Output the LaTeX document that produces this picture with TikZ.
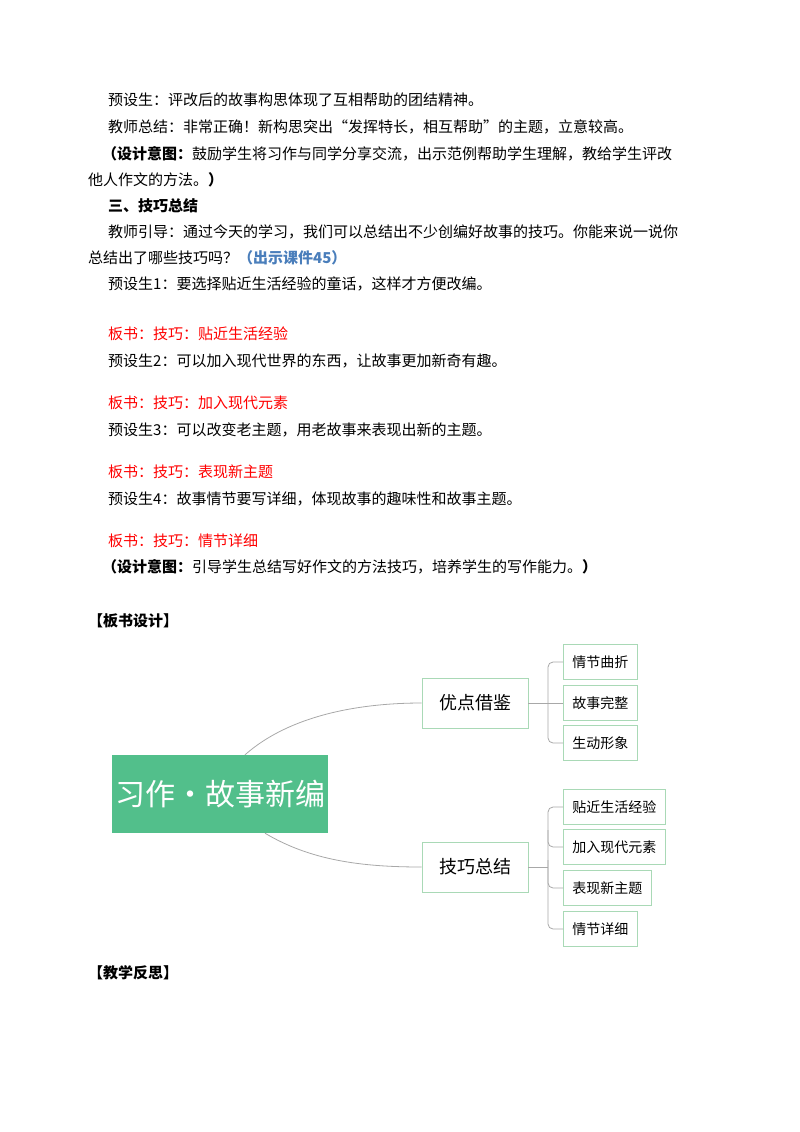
\documentclass[tikz,border=0pt]{standalone}
\usepackage{fontspec}
\setmainfont{Noto Sans CJK SC}
\usetikzlibrary{positioning}
\definecolor{mapgreen}{HTML}{52BF8B}
\definecolor{boxline}{HTML}{A9D9B6}
\definecolor{linkgray}{HTML}{A8A8A8}
\definecolor{noteblue}{HTML}{4A7EBB}
\tikzset{
  para/.style={anchor=west, inner sep=0pt, font=\fontsize{15}{15}\selectfont},
  board/.style={para, red},
  midbox/.style={draw=boxline, line width=0.8pt, minimum width=106pt, minimum height=50pt, font=\fontsize{18}{18}\selectfont},
  leafbox/.style={draw=boxline, line width=0.8pt, anchor=west, minimum height=35pt, inner xsep=9pt, font=\fontsize{14}{14}\selectfont},
  link/.style={draw=linkgray, line width=0.8pt}
}
\begin{document}
\begin{tikzpicture}[x=1pt, y=-1pt]
	\useasboundingbox (0,0) rectangle (800,1132);
	% lesson text
	\node[para] (p1) at (108,100) {预设生：评改后的故事构思体现了互相帮助的团结精神。};
	\node[para] (p2) at (108,127) {教师总结：非常正确！新构思突出“发挥特长，相互帮助”的主题，立意较高。};
	\node[para] (p3) at (102,154) {\textbf{（设计意图：}鼓励学生将习作与同学分享交流，出示范例帮助学生理解，教给学生评改};
	\node[para] (p4) at (88,180) {他人作文的方法。\textbf{）}};
	\node[para] (p5) at (108,206) {\textbf{三、技巧总结}};
	\node[para] (p6) at (108,232) {教师引导：通过今天的学习，我们可以总结出不少创编好故事的技巧。你能来说一说你};
	\node[para] (p7) at (88,258) {总结出了哪些技巧吗？\textcolor{noteblue}{\textbf{（出示课件45）}}};
	\node[para] (p8) at (108,284) {预设生1：要选择贴近生活经验的童话，这样才方便改编。};
	\node[board] (b1) at (108,334) {板书：技巧：贴近生活经验};
	\node[para] (p9) at (108,361) {预设生2：可以加入现代世界的东西，让故事更加新奇有趣。};
	\node[board] (b2) at (108,403) {板书：技巧：加入现代元素};
	\node[para] (p10) at (108,430) {预设生3：可以改变老主题，用老故事来表现出新的主题。};
	\node[board] (b3) at (108,472) {板书：技巧：表现新主题};
	\node[para] (p11) at (108,499) {预设生4：故事情节要写详细，体现故事的趣味性和故事主题。};
	\node[board] (b4) at (108,541) {板书：技巧：情节详细};
	\node[para] (p12) at (102,567) {\textbf{（设计意图：}引导学生总结写好作文的方法技巧，培养学生的写作能力。\textbf{）}};
	\node[para] (h1) at (88,621) {\textbf{【板书设计】}};
	\node[para] (h2) at (88,973) {\textbf{【教学反思】}};
	% mind map
	\node[fill=mapgreen, text=white, minimum width=216pt, minimum height=78pt, font=\fontsize{30}{30}\selectfont] (topic) at (220,794) {习作·故事新编};
	\node[midbox] (merit) at (475,703) {优点借鉴};
	\node[midbox] (skill) at (475,867) {技巧总结};
	\node[leafbox] (m1) at (563,662) {情节曲折};
	\node[leafbox] (m2) at (563,703) {故事完整};
	\node[leafbox] (m3) at (563,743) {生动形象};
	\node[leafbox] (s1) at (563,807) {贴近生活经验};
	\node[leafbox] (s2) at (563,847) {加入现代元素};
	\node[leafbox] (s3) at (563,888) {表现新主题};
	\node[leafbox] (s4) at (563,929) {情节详细};
	\draw[link] ([xshift=25pt]topic.north) .. controls (290,715) and (360,703) .. (merit.west);
	\draw[link] ([xshift=45pt]topic.south) .. controls (310,860) and (360,867) .. (skill.west);
	\draw[link] (merit.east) -- (m2.west);
	\draw[link, rounded corners=5pt] (m1.west) -| (548,703) |- (m3.west);
	\draw[link] (skill.east) -- (548,867);
	\draw[link, rounded corners=5pt] (s1.west) -| (548,867) |- (s4.west);
	\draw[link, rounded corners=5pt] (548,830) |- (s2.west);
	\draw[link, rounded corners=5pt] (548,860) |- (s3.west);
\end{tikzpicture}
\end{document}
